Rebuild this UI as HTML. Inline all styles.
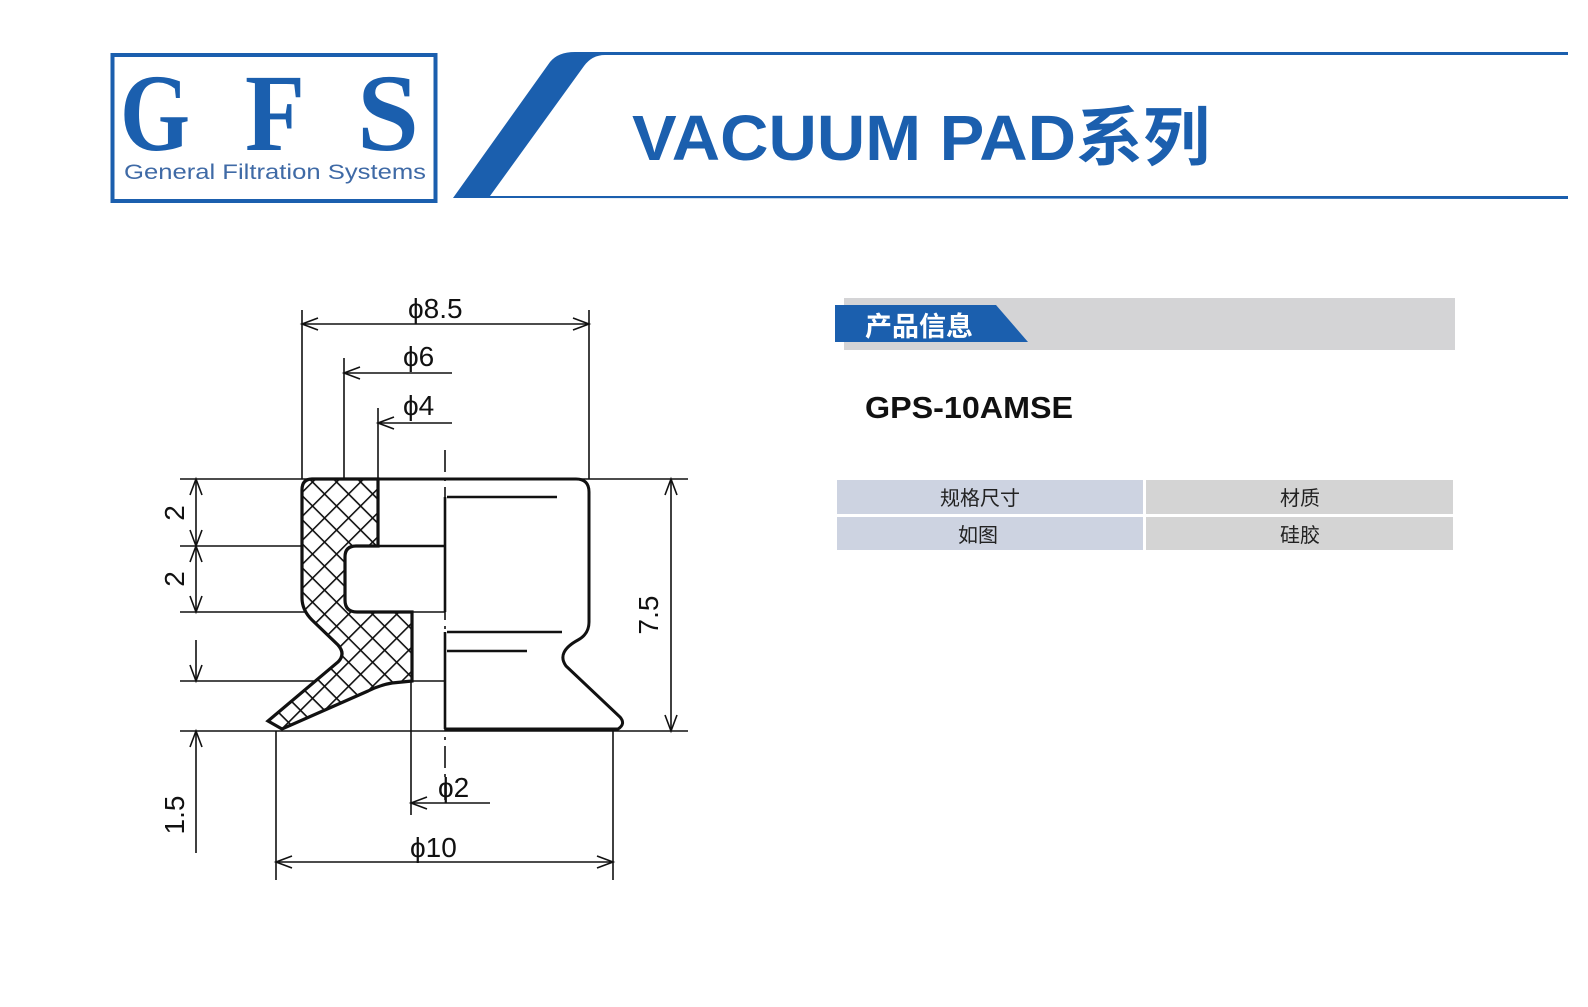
<!DOCTYPE html>
<html><head><meta charset="utf-8"><style>
html,body{margin:0;padding:0;background:#fff;}
svg{display:block;}
</style></head><body>
<svg width="1588" height="1007" viewBox="0 0 1588 1007" xmlns="http://www.w3.org/2000/svg">
<defs>
<pattern id="hx" width="17" height="17" patternUnits="userSpaceOnUse" patternTransform="rotate(45)">
<rect width="17" height="17" fill="#fff"/>
<line x1="0" y1="0" x2="0" y2="17" stroke="#111" stroke-width="3.2"/>
<line x1="0" y1="0" x2="17" y2="0" stroke="#111" stroke-width="3.2"/>
</pattern>
</defs>
<!-- header -->
<rect x="112.5" y="55" width="323" height="146" fill="#fff" stroke="#1b5fae" stroke-width="4"/>
<g font-family="Liberation Serif, serif" font-weight="bold" fill="#1b5fae" font-size="110">
<text x="120" y="150" textLength="70" lengthAdjust="spacingAndGlyphs">G</text>
<text x="245" y="150" textLength="60" lengthAdjust="spacingAndGlyphs">F</text>
<text x="357" y="150" textLength="62" lengthAdjust="spacingAndGlyphs">S</text>
</g>
<text x="124" y="179" font-family="Liberation Sans, sans-serif" font-size="21" fill="#3f6aa6" textLength="302" lengthAdjust="spacingAndGlyphs">General Filtration Systems</text>
<path d="M453,198 L550,62 Q558,52 575,52 L1568,52 L1568,55 L605,55 Q592,55 584,66 L490,196 L1568,196 L1568,199 Z" fill="#1b5fae"/>
<text x="632" y="160" font-family="Liberation Sans, 'Noto Sans CJK SC', sans-serif" font-weight="bold" font-size="64" fill="#1b5fae" textLength="578" lengthAdjust="spacingAndGlyphs">VACUUM PAD系列</text>
<!-- product info -->
<rect x="844" y="298" width="611" height="52" fill="#d4d4d6"/>
<path d="M835,305 L996,305 L1028,342 L835,342 Z" fill="#1b5fae"/>
<text x="865" y="336" font-family="'Noto Sans CJK SC', sans-serif" font-weight="bold" font-size="27" fill="#fff">产品信息</text>
<text x="865" y="418" font-family="Liberation Sans, sans-serif" font-weight="bold" font-size="31" fill="#111" textLength="208" lengthAdjust="spacingAndGlyphs">GPS-10AMSE</text>
<rect x="837" y="480" width="306" height="34" fill="#cdd3e1"/>
<rect x="1146" y="480" width="307" height="34" fill="#d4d4d4"/>
<rect x="837" y="517" width="306" height="33" fill="#cdd3e1"/>
<rect x="1146" y="517" width="307" height="33" fill="#d4d4d4"/>
<g font-family="'Noto Sans CJK SC', sans-serif" font-size="20" fill="#222" text-anchor="middle">
<text x="980" y="505">规格尺寸</text><text x="1300" y="505">材质</text>
<text x="978" y="542">如图</text><text x="1300" y="542">硅胶</text>
</g>
<!-- drawing -->
<g stroke="#111" fill="none" stroke-width="1.6">
<line x1="180" y1="479" x2="688" y2="479"/>
<line x1="180" y1="546" x2="445" y2="546"/>
<line x1="180" y1="612" x2="445" y2="612"/>
<line x1="180" y1="681" x2="445" y2="681"/>
<line x1="180" y1="731" x2="688" y2="731"/>
<line x1="302" y1="310" x2="302" y2="479"/>
<line x1="344" y1="358" x2="344" y2="546"/>
<line x1="378" y1="408" x2="378" y2="479"/>
<line x1="589" y1="310" x2="589" y2="479"/>
<line x1="411" y1="612" x2="411" y2="815"/>
<line x1="276" y1="731" x2="276" y2="880"/>
<line x1="613" y1="731" x2="613" y2="880"/>
<line x1="445" y1="450" x2="445" y2="800" stroke-dasharray="22,6,3,6"/>
<line x1="302" y1="324" x2="589" y2="324"/>
<path d="M318,318 L302,324 L318,330 M573,318 L589,324 L573,330"/>
<line x1="344" y1="373" x2="452" y2="373"/>
<path d="M360,367 L344,373 L360,379"/>
<line x1="378" y1="423" x2="452" y2="423"/>
<path d="M394,417 L378,423 L394,429"/>
<line x1="411" y1="803" x2="490" y2="803"/>
<path d="M427,797 L411,803 L427,809"/>
<line x1="276" y1="862" x2="613" y2="862"/>
<path d="M292,856 L276,862 L292,868 M597,856 L613,862 L597,868"/>
<line x1="196" y1="479" x2="196" y2="612"/>
<path d="M190,495 L196,479 L202,495 M190,530 L196,546 L202,530 M190,562 L196,546 L202,562 M190,596 L196,612 L202,596"/>
<line x1="196" y1="640" x2="196" y2="681"/>
<path d="M190,665 L196,681 L202,665"/>
<line x1="196" y1="731" x2="196" y2="853"/>
<path d="M190,747 L196,731 L202,747"/>
<line x1="671" y1="479" x2="671" y2="731"/>
<path d="M665,495 L671,479 L677,495 M665,715 L671,731 L677,715"/>
</g>
<!-- part -->
<path d="M312,479 L378,479 L378,546 L356,546 Q345,546 345,557 L345,600 Q345,612 357,612 L412,612 L412,681 L392,683 Q380,685 368,691 L282,729 L268,721 L338,662 Q346,654 338,645 L312,620 Q302,610 302,598 L302,490 Q302,479 312,479 Z" fill="url(#hx)" stroke="#111" stroke-width="3.2"/>
<path d="M378,479 L576,479 Q589,479 589,492 L589,622 Q589,634 578,640 Q556,652 566,666 L620,717 Q626,724 618,729 L445,729" fill="none" stroke="#111" stroke-width="3"/>
<g stroke="#111" stroke-width="2.6">
<line x1="447" y1="497" x2="557" y2="497"/>
<line x1="447" y1="632" x2="562" y2="632"/>
<line x1="447" y1="651" x2="527" y2="651"/>
<line x1="378" y1="546" x2="445" y2="546"/>
<line x1="445" y1="497" x2="445" y2="612"/>
<line x1="445" y1="632" x2="445" y2="729"/>
</g>
<g font-family="Liberation Sans, sans-serif" font-size="28" fill="#111">
<text x="408" y="318">ϕ8.5</text>
<text x="403" y="366">ϕ6</text>
<text x="403" y="415">ϕ4</text>
<text x="438" y="797">ϕ2</text>
<text x="410" y="857">ϕ10</text>
<text transform="translate(184,513) rotate(-90)" text-anchor="middle">2</text>
<text transform="translate(184,579) rotate(-90)" text-anchor="middle">2</text>
<text transform="translate(184,815) rotate(-90)" text-anchor="middle">1.5</text>
<text transform="translate(658,615) rotate(-90)" text-anchor="middle">7.5</text>
</g>
</svg>
</body></html>
